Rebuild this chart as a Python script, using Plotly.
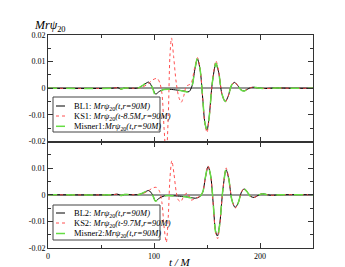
import plotly.graph_objects as go

# ---- data ----
t_bl1 = [0, 60, 66, 69, 72, 78, 85, 90, 95, 98.5, 101.5, 105, 109, 115, 122, 128, 133, 136, 138.5, 141, 143.5, 146, 148, 150, 152, 155, 158.4, 161, 164, 167.2, 170, 173, 176, 179, 182, 185, 188, 191, 194, 198, 205, 215, 230, 250]
y_bl1 = [0, 0, 0.0002, -0.0003, 0.0001, 0, 0.0001, 0.0012, 0.0023, 0.0002, -0.0022, -0.0012, -0.0005, -0.0004, -0.0007, -0.001, -0.0013, 0.001, 0.007, 0.011, 0.007, -0.004, -0.013, -0.0157, -0.011, 0.002, 0.0092, 0.006, -0.002, -0.005, -0.003, 0.001, 0.0022, 0.001, -0.0006, -0.001, -0.0004, 0.0002, 0.0004, 0.0001, -0.0001, 0.0001, 0, 0]

t_ks1 = [0, 60, 66, 69, 72, 80, 88, 94, 99, 103, 105.5, 107.5, 109.5, 111.5, 113.5, 115, 116.5, 118.5, 121, 123.5, 125.7, 128, 130.5, 132.5, 135, 138.5, 141, 143.5, 146, 148, 150, 152, 155, 158.4, 161, 164, 167.2, 170, 173, 176, 179, 182, 185, 188, 191, 194, 198, 205, 215, 230, 250]
y_ks1 = [0, 0, 0.0002, -0.0003, 0.0001, 0, 0.0003, 0.0015, 0.0032, 0.0037, 0.002, -0.002, -0.015, -0.026, -0.01, 0.012, 0.0189, 0.012, 0.002, -0.0035, -0.0053, -0.003, 0.0008, 0.0012, 0.0018, 0.008, 0.0115, 0.0075, -0.004, -0.0135, -0.0166, -0.0115, 0.002, 0.0103, 0.0065, -0.002, -0.0052, -0.003, 0.001, 0.0023, 0.001, -0.0006, -0.001, -0.0004, 0.0002, 0.0004, 0.0001, -0.0001, 0.0001, 0, 0]

t_mi1 = [0, 60, 66, 69, 72, 78, 85, 90, 95, 98.5, 101.5, 105, 109, 115, 122, 128, 133, 136, 138.5, 141, 143.5, 146, 148, 150, 152, 155, 158.4, 161, 164, 167.2, 170, 173, 176, 179, 182, 185, 188, 191, 194, 198, 205, 215, 230, 250]
y_mi1 = [0, 0, 0.0002, -0.0003, 0.0001, 0, 0.0001, 0.0013, 0.0025, 0.0002, -0.0027, -0.0014, -0.0005, -0.0004, -0.0007, -0.0011, -0.0014, 0.001, 0.007, 0.0112, 0.007, -0.004, -0.013, -0.0155, -0.011, 0.002, 0.0094, 0.006, -0.002, -0.0049, -0.003, 0.001, 0.0022, 0.001, -0.0006, -0.001, -0.0004, 0.0002, 0.0004, 0.0001, -0.0001, 0.0001, 0, 0]

t_bl2 = [0, 60, 66, 69, 72, 80, 86, 91, 95, 98.5, 101.4, 105, 110, 118, 126, 133, 139, 143, 146, 148.5, 151, 153.5, 156, 158, 159.8, 162, 165, 168, 170.5, 173.5, 176.6, 179.5, 182.5, 185, 188, 191, 194.4, 198, 202, 206, 210, 220, 250]
y_bl2 = [0, 0, 0.0002, -0.0003, 0.0001, 0, 0.0001, 0.0009, 0.0016, 0.0001, -0.0023, -0.0013, -0.0004, -0.0004, -0.0006, -0.0009, -0.0013, -0.0008, 0.001, 0.0065, 0.0106, 0.007, -0.004, -0.0135, -0.0155, -0.011, 0.002, 0.0094, 0.006, -0.002, -0.0048, -0.003, 0.001, 0.0022, 0.001, -0.0006, -0.001, -0.0003, 0.0004, 0.0001, -0.0002, 0, 0]

t_ks2 = [0, 60, 66, 69, 72, 80, 88, 94, 98, 102, 105, 107.5, 109.5, 111.6, 113.5, 115, 116.8, 118.8, 121, 123, 125.3, 127.5, 130, 132, 134.6, 137, 140, 143, 146, 148.5, 151, 153.5, 156, 158, 160, 162, 165, 168, 170.5, 173.5, 176.6, 179.5, 182.5, 185, 188, 191, 194.4, 198, 202, 206, 210, 220, 250]
y_ks2 = [0, 0, 0.0002, -0.0003, 0.0001, 0, 0.0003, 0.0012, 0.0024, 0.0028, 0.0015, -0.003, -0.012, -0.0179, -0.008, 0.006, 0.0128, 0.008, 0.001, -0.002, -0.0026, -0.001, 0.0004, 0.0006, -0.002, -0.0018, -0.0012, -0.0006, 0.001, 0.0065, 0.0109, 0.007, -0.0045, -0.014, -0.0165, -0.0115, 0.002, 0.0101, 0.0065, -0.002, -0.005, -0.003, 0.001, 0.0023, 0.001, -0.0006, -0.001, -0.0003, 0.0004, 0.0001, -0.0002, 0, 0]

t_mi2 = [0, 60, 66, 69, 72, 80, 86, 91, 95, 98.5, 101.4, 105, 110, 118, 126, 133, 139, 143, 146, 148.5, 151, 153.5, 156, 158, 159.8, 162, 165, 168, 170.5, 173.5, 176.6, 179.5, 182.5, 185, 188, 191, 194.4, 198, 202, 206, 210, 220, 250]
y_mi2 = [0, 0, 0.0002, -0.0003, 0.0001, 0, 0.0001, 0.001, 0.0017, 0.0001, -0.0024, -0.0014, -0.0004, -0.0004, -0.0006, -0.001, -0.0014, -0.0008, 0.001, 0.0066, 0.0108, 0.007, -0.004, -0.0137, -0.0158, -0.011, 0.002, 0.0096, 0.006, -0.002, -0.0049, -0.003, 0.001, 0.0022, 0.001, -0.0006, -0.001, -0.0003, 0.0004, 0.0001, -0.0002, 0, 0]

names1 = ["BL1: <i>Mrψ</i><sub>20</sub><i>(t,r=90M)</i>",
          "KS1: <i>Mrψ</i><sub>20</sub><i>(t-8.5M,r=90M)</i>",
          "Misner1:<i>Mrψ</i><sub>20</sub><i>(t,r=90M)</i>"]
names2 = ["BL2: <i>Mrψ</i><sub>20</sub><i>(t,r=90M)</i>",
          "KS2: <i>Mrψ</i><sub>20</sub><i>(t-9.7M,r=90M)</i>",
          "Misner2:<i>Mrψ</i><sub>20</sub><i>(t,r=90M)</i>"]

top_ticks = [0.02, 0.01, 0, -0.01, -0.02]
top_labels = ["0.02", "0.01", "0", "-0.01", "-0.02"]
bot_ticks = [0.01, 0, -0.01, -0.02]
bot_labels = ["0.01", "0", "-0.01", "-0.02"]
x_ticks = [0, 100, 200]
x_labels = ["0", "100", "200"]

FONT = "Liberation Serif"
W, H = 345, 267
ML, MR, MT, MB = 40, 40, 27, 27
styles = [dict(color="black", width=1, dash="solid"),
          dict(color="#ff5050", width=1, dash="dot"),
          dict(color="#66dd44", width=1.5, dash="dash")]


def px(x):
    return (x - ML) / (W - ML - MR)


def py(y):
    return (H - MB - y) / (H - MT - MB)


fig = go.Figure()
for (t, y), nm, st in zip([(t_bl1, y_bl1), (t_ks1, y_ks1), (t_mi1, y_mi1)], names1, styles):
    fig.add_trace(go.Scatter(x=t, y=y, mode="lines", name=nm, showlegend=False,
                             line=dict(shape="spline", smoothing=0.8, **st), xaxis="x", yaxis="y"))
for (t, y), nm, st in zip([(t_bl2, y_bl2), (t_ks2, y_ks2), (t_mi2, y_mi2)], names2, styles):
    fig.add_trace(go.Scatter(x=t, y=y, mode="lines", name=nm, showlegend=False,
                             line=dict(shape="spline", smoothing=0.8, **st), xaxis="x2", yaxis="y2"))

# ---- manual compact legends (boxes, samples, labels) ----
shapes, annotations = [], []
for names, (top, bot), rows in [(names1, (89, 124), (98, 108, 118.3)),
                                (names2, (197, 232), (205, 215, 225.5))]:
    shapes.append(dict(type="rect", xref="paper", yref="paper", x0=px(45), x1=px(152), y0=py(bot), y1=py(top),
                       line=dict(color="#444", width=1), fillcolor="white", layer="above"))
    for nm, st, ry in zip(names, styles, rows):
        shapes.append(dict(type="line", xref="paper", yref="paper", x0=px(48), x1=px(57), y0=py(ry), y1=py(ry),
                           line=dict(color=st["color"], width=st["width"], dash=st["dash"]), layer="above"))
        annotations.append(dict(text=nm, xref="paper", yref="paper", x=px(64), y=py(ry), xanchor="left",
                                yanchor="middle", showarrow=False,
                                font=dict(family=FONT, size=8.5, color="black")))

annotations.append(dict(text="<i>Mrψ</i><sub>20</sub>", xref="paper", yref="paper", x=px(24), y=py(28),
                        xanchor="left", yanchor="bottom", showarrow=False,
                        font=dict(family=FONT, size=12, color="black")))
annotations.append(dict(text="<i>t / M</i>", xref="paper", yref="paper", x=px(172), y=py(254),
                        xanchor="center", yanchor="middle", showarrow=False,
                        font=dict(family=FONT, size=11, color="black")))

axis_common = dict(showline=True, linecolor="#333", linewidth=1, mirror="allticks", ticks="inside",
                   tickcolor="#333", ticklen=5, showgrid=False, automargin=False,
                   tickfont=dict(family=FONT, size=8, color="black"))
fig.update_layout(
    width=W, height=H, plot_bgcolor="white", paper_bgcolor="white",
    margin=dict(l=ML, r=MR, t=MT, b=MB),
    font=dict(family=FONT, size=8, color="black"),
    showlegend=False,
    xaxis=dict(domain=[0, 1], anchor="y", range=[0, 250], tickvals=x_ticks, ticktext=["", "", ""],
               minor=dict(dtick=50, tick0=0, ticks="inside", ticklen=3, tickcolor="#333"),
               zeroline=False, **axis_common),
    yaxis=dict(domain=[0.5, 1], anchor="x", range=[-0.02, 0.02], tickvals=top_ticks, ticktext=top_labels,
               minor=dict(dtick=0.005, tick0=0, ticks="inside", ticklen=3, tickcolor="#333"),
               zeroline=True, zerolinecolor="#999", zerolinewidth=1.5, **axis_common),
    xaxis2=dict(domain=[0, 1], anchor="y2", range=[0, 250], tickvals=x_ticks, ticktext=x_labels,
                minor=dict(dtick=50, tick0=0, ticks="inside", ticklen=3, tickcolor="#333"),
                zeroline=False, **axis_common),
    yaxis2=dict(domain=[0, 0.5], anchor="x2", range=[-0.02, 0.02], tickvals=bot_ticks, ticktext=bot_labels,
                minor=dict(dtick=0.005, tick0=0, ticks="inside", ticklen=3, tickcolor="#333"),
                zeroline=True, zerolinecolor="#999", zerolinewidth=1.5, **axis_common),
    shapes=shapes,
    annotations=annotations,
)
fig.write_html("out.html")
